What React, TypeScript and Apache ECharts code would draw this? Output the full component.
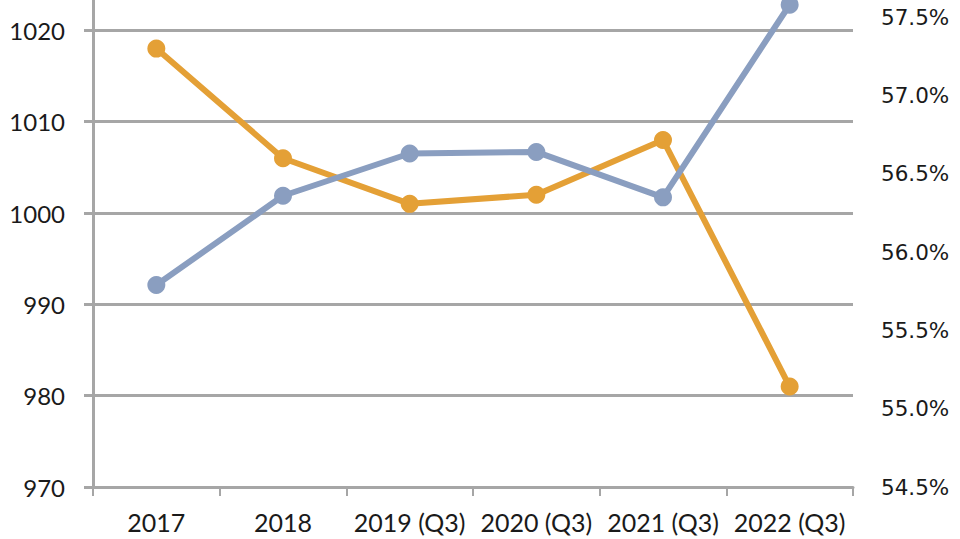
import React, { useEffect, useRef } from "react";
import * as echarts from "echarts";

const categories = ["2017", "2018", "2019 (Q3)", "2020 (Q3)", "2021 (Q3)", "2022 (Q3)"];
const orangeValues = [1018, 1006, 1001, 1002, 1008, 981];
const blueValues = [55.79, 56.36, 56.63, 56.64, 56.35, 57.58];
const leftAxisRange = { min: 970, max: 1030, interval: 10 };
const rightAxisRange = { min: 54.5, max: 58.0, interval: 0.5 };

const GRID_COLOR = "#a6a6a6";
const ORANGE = "#e4a036";
const BLUE = "#8a9ec0";
const TEXT = "#1a1a1a";
const OFFSET = 61;

export default function App() {
  const ref = useRef<HTMLDivElement>(null);
  useEffect(() => {
    if (!ref.current) return;
    const chart = echarts.init(ref.current, null, { renderer: "svg" });
    chart.setOption({
      animation: false,
      backgroundColor: "#ffffff",
      grid: { left: 93, right: 107, top: 0, bottom: 52, containLabel: false },
      xAxis: {
        type: "category",
        data: categories,
        boundaryGap: true,
        axisLine: { show: true, lineStyle: { color: GRID_COLOR, width: 3 } },
        axisTick: { show: true, length: 9, lineStyle: { color: GRID_COLOR, width: 2 } },
        axisLabel: { color: TEXT, fontSize: 25, fontFamily: "Lato", margin: 22, interval: 0 },
        splitLine: { show: false },
      },
      yAxis: [
        {
          type: "value",
          position: "left",
          min: leftAxisRange.min,
          max: leftAxisRange.max,
          interval: leftAxisRange.interval,
          axisLine: { show: true, lineStyle: { color: GRID_COLOR, width: 3 } },
          axisTick: { show: true, length: 9, lineStyle: { color: GRID_COLOR, width: 3 } },
          axisLabel: {
            color: TEXT,
            fontSize: 24,
            fontFamily: "Lato",
            margin: 28,
            showMaxLabel: false,
            formatter: (v: number) => String(v),
          },
          splitLine: { show: true, lineStyle: { color: GRID_COLOR, width: 3 } },
        },
        {
          type: "value",
          position: "right",
          min: rightAxisRange.min,
          max: rightAxisRange.max,
          interval: rightAxisRange.interval,
          axisLine: { show: false },
          axisTick: { show: false },
          axisLabel: {
            color: TEXT,
            fontSize: 21.5,
            fontFamily: "DejaVu Sans",
            margin: 28,
            showMaxLabel: false,
            formatter: (v: number) => v.toFixed(1) + "%",
          },
          splitLine: { show: false },
        },
      ],
      series: [
        {
          type: "line",
          yAxisIndex: 0,
          data: orangeValues,
          symbol: "circle",
          symbolSize: 18,
          lineStyle: { color: ORANGE, width: 6 },
          itemStyle: { color: ORANGE },
          z: 3,
        },
        {
          type: "line",
          yAxisIndex: 1,
          data: blueValues,
          symbol: "circle",
          symbolSize: 18,
          lineStyle: { color: BLUE, width: 6 },
          itemStyle: { color: BLUE },
          z: 4,
        },
      ],
    });
    return () => chart.dispose();
  }, []);
  return (
    <div style={{ position: "fixed", left: 0, top: 0, width: 960, height: 539, overflow: "hidden", background: "#fff" }}>
      <div
        ref={ref}
        style={{ position: "absolute", left: 0, top: -OFFSET, width: 960, height: 539 + OFFSET }}
      />
    </div>
  );
}
